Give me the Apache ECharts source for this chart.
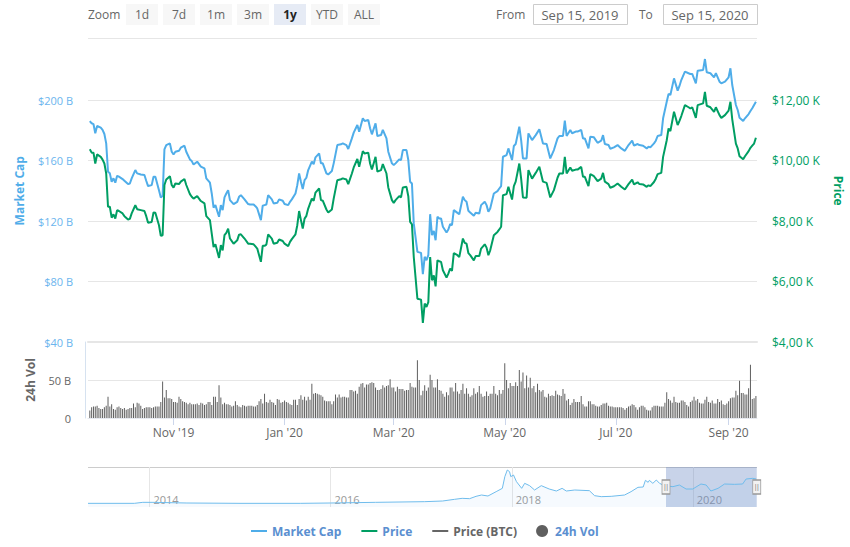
<!DOCTYPE html>
<html>
<head>
<meta charset="utf-8">
<title>Market Cap / Price</title>
<script src="https://cdn.jsdelivr.net/npm/echarts@6/dist/echarts.min.js"></script>
<style>
  html, body { margin: 0; padding: 0; background: #fff; }
  #chart { width: 850px; height: 547px; }
</style>
</head>
<body>
<div id="chart"></div>
<script>
// days after Sep 15 2019 at which the two lines were read
const lineDays = [
  1,2,3,4,5,7,8,9,10,11, 12,13,14,15,16,17,19,20,22,23,
  24,26,27,29,31,32,33,35,36,37, 39,40,41,42,43,45,46,47,48,50,
  51,53,54,56,57,58,60,62,64,65, 67,68,69,70,72,73,74,75,76,77,
  78,80,82,83,84,86,88,89,91,92, 93,95,96,97,98,99,101,102,104,105,
  107,108,110,111,112,114,115,116,117,118, 119,120,121,123,124,125,127,128,129,131,
  132,134,135,137,139,140,142,143,145,146, 148,149,151,152,154,155,156,158,159,161,
  162,164,165,167,168,169,171,172,173,175, 176,177,178,179,181,183,184,185,186,187,
  188,189,190,191,192,193,194,195,197,198, 199,200,201,203,204,206,207,208,209,210,
  212,213,215,216,218,219,220,221,223,225, 226,227,228,230,231,233,234,235,237,238,
  239,241,242,244,246,248,250,252,254,256, 258,259,261,262,263,265,266,268,269,271,
  272,273,275,276,278,279,280,282,283,284, 286,287,289,291,293,295,297,299,300,302,
  303,305,307,308,309,311,312,313,315,316, 318,319,320,322,324,325,326,328,330,331,
  332,334,335,338,339,340,342,344,345,347, 348,350,352,353,354,356,357,358,360,361,
  363,364,365,366,367
];

// market cap, $ B
const capValues = [
  186.1,184.6,184.1,178,182.8,181.7,180.2,177.5,171.3,152.6, 151.5,146,148.2,145.3,149.9,149.3,147.7,146.6,144.4,144.8,
  148.2,153.7,151.5,150.8,150.4,146.6,143.1,143.7,149.3,149.3, 140.4,135.6,136.5,167.4,170.2,171.3,165.8,164,165.8,166.5,
  168.5,169.8,165.8,160.7,159.6,157.4,159.2,155.9,154.8,148.2, 145.3,138.2,128.9,130.5,122.8,130.5,127.2,135.6,138.2,140.4,
  133.8,131.2,132.7,136,137.1,134.3,131.2,130.9,130.9,129.8, 128.3,120.6,130.1,130.5,130.9,137.1,134.3,131.6,132,134.3,
  133.4,131.2,130.5,132.7,134.3,138.2,143.7,151.5,146,141.1, 147,148.6,153.7,159.2,157.6,162.1,164.7,158.1,158.1,151.5,
  150.8,153,158.1,170.2,170.7,171.3,170.2,167.6,174.6,178.4, 183.5,179,187.9,186.1,186.8,181.3,177.3,184.6,176.2,176.8,
  180.2,174.6,165.8,158.1,157,158.1,160.7,160.3,166.9,166.9, 160.3,146,144.8,118.4,99.6,98.9,84.8,96.3,94.1,97.4,
  124.5,110.6,113.5,107.3,122.8,121.7,121.7,116.2,112.4,114.4, 117.9,117.3,127.2,125.4,124.5,136,133.8,132.7,126.8,125.6,
  123.4,125.4,125,130.5,132.7,130.5,126.1,128.3,138.2,139.8, 141.5,143.1,162.5,163.6,168,160.3,169.6,170.9,182.4,173.5,
  161.4,161.4,177.9,173.5,176.8,180.6,171.3,170.9,161.4,166.9, 174.6,176.2,176.2,186.3,176.2,180.2,178,179.1,179.1,180.2,
  174.6,174.6,168,175.7,175.3,173.5,171.7,173.1,176.8,170.9, 170.2,167.8,168.7,170.2,168,166.4,170.2,173.1,169.8,170.9,
  170.2,169.8,168,169.1,168.7,171.3,173.1,176.2,176.8,187.9, 198.9,204,203.3,214.3,206.2,209.3,213.2,218.8,217.7,217.2,
  217.2,211,219.4,219.9,227.1,218.3,217.7,215,217.7,212.1, 211,212.1,215,221,209.9,196.7,193.4,188.3,186.1,187.9,
  190.7,192.7,194.5,196.7,198.9
];

// price, $ K
const priceValues = [
  10.37,10.26,10.26,9.9,10.2,10.12,10.03,9.9,9.57,8.47, 8.47,8.11,8.22,8.08,8.36,8.33,8.25,8.16,8.05,8.07,
  8.25,8.52,8.39,8.36,8.33,8.16,7.94,7.97,8.28,8.27, 7.86,7.51,7.53,9.19,9.37,9.48,9.19,9.1,9.24,9.22,
  9.3,9.39,9.19,8.89,8.8,8.74,8.82,8.66,8.58,8.16, 8.03,7.58,7.14,7.23,6.78,7.2,7.03,7.53,7.61,7.75,
  7.42,7.25,7.36,7.55,7.56,7.42,7.25,7.25,7.23,7.16, 7.09,6.65,7.18,7.18,7.22,7.56,7.42,7.25,7.28,7.39,
  7.34,7.25,7.17,7.31,7.4,7.56,7.86,8.33,8.03,7.75, 8.08,8.17,8.41,8.74,8.67,8.94,9.08,8.69,8.67,8.38,
  8.28,8.38,8.74,9.35,9.38,9.41,9.37,9.22,9.57,9.77, 10.05,9.79,10.31,10.23,10.26,9.9,9.7,10.12,9.63,9.68,
  9.88,9.57,9.11,8.69,8.6,8.69,8.82,8.78,9.11,9.13, 8.82,7.97,7.89,6.81,5.43,5.4,4.63,5.27,5.16,5.32,
  6.81,6.04,6.2,5.84,6.7,6.67,6.65,6.37,6.13,6.26, 6.43,6.35,6.94,6.87,6.81,7.42,7.28,7.25,6.94,6.87,
  6.7,6.84,6.84,7.09,7.23,7.12,6.87,7.03,7.53,7.64, 7.72,7.81,8.85,8.89,9.13,8.71,9.15,9.3,9.9,9.4,
  8.78,8.77,9.68,9.4,9.59,9.79,9.3,9.26,8.78,9.02, 9.43,9.57,9.57,10.12,9.57,9.77,9.66,9.7,9.7,9.79,
  9.46,9.46,9.15,9.55,9.48,9.4,9.32,9.4,9.59,9.3, 9.22,9.1,9.15,9.24,9.13,9.04,9.22,9.37,9.21,9.28,
  9.22,9.21,9.13,9.18,9.15,9.29,9.4,9.55,9.59,10.12, 10.67,11.06,10.97,11.61,11.17,11.31,11.47,11.83,11.76,11.72,
  11.76,11.41,11.83,11.89,12.27,11.81,11.76,11.61,11.76,11.5, 11.41,11.5,11.65,11.94,11.36,10.56,10.4,10.14,10.04,10.14,
  10.31,10.42,10.49,10.56,10.75
];

// 24h volume, $ B, one bar a day starting at day 1
const volValues = [
  10,14,15,15,16,13,12,12,14,16, 28,15,18,12,11,14,15,13,12,13,
  11,12,13,13,19,14,20,19,16,12, 13,14,14,14,13,14,15,15,15,21,
  48,27,37,26,26,25,21,21,20,28, 25,22,21,20,18,20,18,18,18,19,
  17,20,19,17,18,21,21,17,28,28, 21,43,27,18,20,18,18,17,15,16,
  22,17,15,14,17,16,15,16,16,16, 15,15,17,22,25,19,32,21,20,24,
  21,20,17,25,24,20,21,23,21,20, 18,17,24,24,17,25,30,24,28,23,
  28,24,45,32,33,32,31,30,28,23, 22,22,22,18,22,31,27,31,27,28,
  28,27,27,37,37,35,36,32,41,45, 46,40,44,44,46,47,46,40,37,37,
  38,43,40,42,43,51,40,40,35,41, 38,38,38,36,37,37,46,41,40,40,
  76,50,30,36,43,36,40,57,50,40, 40,51,37,36,32,28,34,30,40,40,
  35,46,35,32,37,45,32,39,32,28, 30,39,32,34,42,32,28,29,35,29,
  32,32,42,32,30,37,32,37,72,50, 39,46,42,42,47,42,63,48,60,39,
  56,40,53,39,42,34,45,37,35,37, 28,27,32,29,30,29,36,31,30,29,
  38,32,23,25,17,20,25,21,21,21, 29,18,15,15,22,22,18,18,16,15,
  15,17,19,19,20,16,15,15,14,14, 14,14,14,13,11,13,15,16,18,17,
  14,11,14,16,16,14,11,10,10,14, 16,16,16,15,15,15,20,34,25,23,
  20,28,21,20,20,23,23,21,17,15, 21,23,28,23,25,20,19,19,24,28,
  21,20,23,19,19,25,21,23,18,17, 19,22,26,27,27,36,30,49,33,33,
  31,31,39,70,25,26,29
];

// navigator, whole history
const navDates = [
  '2013-04-28','2013-11-01','2013-12-05','2014-01-15','2014-06-01','2015-01-01','2015-09-01','2016-01-01','2016-07-01','2017-01-15',
  '2017-03-28','2017-05-15','2017-06-15','2017-07-15','2017-08-10','2017-09-01','2017-09-27','2017-10-30','2017-11-24','2017-12-04',
  '2017-12-14','2017-12-23','2017-12-28','2018-01-08','2018-01-20','2018-02-10','2018-02-22','2018-03-14','2018-04-03','2018-04-30',
  '2018-06-01','2018-06-30','2018-07-23','2018-08-09','2018-09-12','2018-11-10','2018-12-01','2018-12-28','2019-02-06','2019-04-01',
  '2019-04-27','2019-05-25','2019-06-15','2019-06-24','2019-07-05','2019-07-10','2019-07-24','2019-08-07','2019-08-20','2019-09-09',
  '2019-10-13','2019-11-08','2019-12-05','2020-01-01','2020-02-03','2020-02-24','2020-03-14','2020-04-12','2020-05-08','2020-06-17',
  '2020-07-20','2020-08-03','2020-08-30','2020-09-13'
];
const navValues = [
  33,33,42,42,36,33,33,36,42,48,
  54,69,78,75,96,108,99,138,168,273,
  333,318,273,288,228,168,213,192,153,192,
  162,144,168,144,153,147,102,93,96,108,
  138,177,180,240,222,240,213,243,213,192,
  183,198,162,162,207,198,144,168,207,204,
  207,252,258,252
];

const xTickDates = ['2019-11-01','2020-01-01','2020-03-01','2020-05-01','2020-07-01','2020-09-01'];
const xTickLabels = ["Nov '19","Jan '20","Mar '20","May '20","Jul '20","Sep '20"];
const navTickDates = ['2014-01-01','2016-01-01','2018-01-01','2020-01-01'];
const navTickLabels = ['2014','2016','2018','2020'];
const rangeButtons = ['1d','7d','1m','3m','1y','YTD','ALL'];

const DAY = 86400000;
const startTime = Date.parse('2019-09-15');
const xTicks = xTickDates.map(d => Date.parse(d));
const navTicks = navTickDates.map(d => Date.parse(d));
const dayToTime = d => startTime + d * DAY;

const FONT = '"Open Sans", "Noto Sans", sans-serif';
const BLUE = '#4fade9';
const GREEN = '#009e63';
const GRAY = '#666666';
const LINK = '#5b8fd0';
const NO_DOT = { color: 'rgba(0,0,0,0)', borderColor: 'rgba(0,0,0,0)', opacity: 0 };

const chart = echarts.init(document.getElementById('chart'), null, { renderer: 'svg' });

// 상단 버튼 / 입력칸
const topBar = [
  { type: 'text', left: 88, top: 8, style: { text: 'Zoom', fill: GRAY, font: '12px ' + FONT } },
  { type: 'line', shape: { x1: 88, y1: 38.5, x2: 757, y2: 38.5 }, style: { stroke: '#e6e6e6' } },
  { type: 'line', shape: { x1: 88, y1: 467.5, x2: 757, y2: 467.5 }, style: { stroke: '#cccccc' } }
];
rangeButtons.forEach((name, i) => {
  const x = 126 + i * 37;
  const active = name === '1y';
  topBar.push({ type: 'rect', shape: { x: x, y: 4, width: 32, height: 21 }, style: { fill: active ? '#e6ebf5' : '#f7f7f7' } });
  topBar.push({
    type: 'text', x: x + 16, y: 14.5,
    style: { text: name, fill: active ? '#222' : GRAY, font: (active ? 'bold ' : '') + '12px ' + FONT, align: 'center', verticalAlign: 'middle' }
  });
});
[['From', 496, 533, 'Sep 15, 2019'], ['To', 639, 663, 'Sep 15, 2020']].forEach(([label, lx, bx, val]) => {
  topBar.push({ type: 'text', x: lx, y: 14, style: { text: label, fill: GRAY, font: '12px ' + FONT, verticalAlign: 'middle' } });
  topBar.push({ type: 'rect', shape: { x: bx + 0.5, y: 4.5, width: 94, height: 20 }, style: { fill: '#fff', stroke: '#cccccc' } });
  topBar.push({ type: 'text', x: bx + 47, y: 14.5, style: { text: val, fill: GRAY, font: '13px ' + FONT, align: 'center', verticalAlign: 'middle' } });
});

const navEnd = dayToTime(366);

chart.setOption({
  animation: false,
  backgroundColor: '#fff',
  textStyle: { fontFamily: FONT },
  graphic: topBar,
  legend: {
    left: 245, top: 520,
    itemWidth: 16, itemHeight: 12, itemGap: 19,
    textStyle: { fontFamily: FONT, fontSize: 12, fontWeight: 'bold', color: LINK },
    data: [
      { name: 'Market Cap', itemStyle: NO_DOT },
      { name: 'Price', itemStyle: NO_DOT },
      { name: 'Price (BTC)', itemStyle: NO_DOT, textStyle: { color: GRAY, width: 69 } },
      { name: '24h Vol', icon: 'circle' }
    ]
  },
  grid: [
    { left: 88, right: 93, top: 39.5, height: 302.5, outerBoundsMode: 'none' },
    { left: 88, right: 93, top: 342, height: 76, outerBoundsMode: 'none' },
    { left: 88, right: 93, top: 467, height: 40, outerBoundsMode: 'none' }
  ],
  xAxis: [
    {
      type: 'value', gridIndex: 0, min: startTime, max: dayToTime(367.6), containShape: false,
      axisTick: { show: false }, axisLabel: { show: false }, splitLine: { show: false },
      axisLine: { show: true, onZero: false, lineStyle: { color: '#e6e6e6', width: 2 } }
    },
    {
      type: 'value', gridIndex: 1, min: startTime, max: dayToTime(367.6), containShape: false,
      splitLine: { show: false },
      axisLine: { show: true, onZero: false, lineStyle: { color: '#e6e9f0' } },
      axisTick: { show: true, length: 7, customValues: xTicks, lineStyle: { color: '#ccd6eb' } },
      axisLabel: {
        customValues: xTicks, margin: 8, color: GRAY, fontSize: 12, fontFamily: FONT,
        formatter: v => xTickLabels[xTicks.indexOf(v)]
      }
    },
    {
      type: 'value', gridIndex: 2, min: Date.parse('2013-04-28'), max: Date.parse('2020-09-16'), containShape: false,
      splitLine: { show: false },
      axisLine: { show: false },
      axisTick: { show: true, inside: true, length: 40, customValues: navTicks, lineStyle: { color: '#e6e6e6' } },
      axisLabel: {
        customValues: navTicks, inside: true, margin: 2, color: '#999', fontSize: 11, fontFamily: FONT,
        align: 'left', padding: [0, 0, 0, 4],
        formatter: v => navTickLabels[navTicks.indexOf(v)]
      }
    }
  ],
  yAxis: [
    {
      type: 'value', gridIndex: 0, min: 40, max: 240, interval: 40,
      name: 'Market Cap', nameLocation: 'middle', nameGap: 63, nameRotate: 90,
      nameTextStyle: { color: BLUE, fontWeight: 'bold', fontSize: 12, fontFamily: FONT },
      axisLine: { show: false }, axisTick: { show: false },
      axisLabel: { showMaxLabel: false, margin: 15, color: '#6bb5ee', fontSize: 11, fontFamily: FONT, formatter: v => '$' + v + ' B' },
      splitLine: { showMaxLine: false, lineStyle: { color: '#e6e6e6' } }
    },
    {
      type: 'value', gridIndex: 0, position: 'right', min: 4, max: 14, interval: 2,
      name: 'Price', nameLocation: 'middle', nameGap: 75, nameRotate: -90,
      nameTextStyle: { color: GREEN, fontWeight: 'bold', fontSize: 12, fontFamily: FONT },
      axisLine: { show: false }, axisTick: { show: false },
      axisLabel: { showMaxLabel: false, margin: 15, color: GREEN, fontSize: 12, fontFamily: FONT, formatter: v => '$' + v + ',00 K' },
      splitLine: { show: false }
    },
    {
      type: 'value', gridIndex: 1, min: 0, max: 100, interval: 50, offset: 3,
      name: '24h Vol', nameLocation: 'middle', nameGap: 49, nameRotate: 90,
      nameTextStyle: { color: GRAY, fontWeight: 'bold', fontSize: 12, fontFamily: FONT },
      axisLine: { show: true, lineStyle: { color: '#d6e2f0' } }, axisTick: { show: false },
      axisLabel: { showMaxLabel: false, margin: 14, color: GRAY, fontSize: 11, fontFamily: FONT, formatter: v => v === 0 ? '0' : v + ' B' },
      splitLine: { lineStyle: { color: '#e6e6e6' } }
    },
    { type: 'value', gridIndex: 2, min: 0, max: 360, show: false }
  ],
  series: [
    {
      name: 'Market Cap', type: 'line', xAxisIndex: 0, yAxisIndex: 0, symbol: 'none',
      lineStyle: { color: BLUE, width: 2 }, itemStyle: { color: BLUE },
      data: lineDays.map((d, i) => [dayToTime(d), capValues[i]])
    },
    {
      name: 'Price', type: 'line', xAxisIndex: 0, yAxisIndex: 1, symbol: 'none',
      lineStyle: { color: GREEN, width: 2 }, itemStyle: { color: GREEN },
      data: lineDays.map((d, i) => [dayToTime(d), priceValues[i]])
    },
    {
      name: 'Price (BTC)', type: 'line', xAxisIndex: 0, yAxisIndex: 1, symbol: 'none',
      lineStyle: { color: GRAY, width: 2 }, itemStyle: { color: GRAY },
      data: []
    },
    {
      name: '24h Vol', type: 'bar', xAxisIndex: 1, yAxisIndex: 2, barWidth: 1,
      itemStyle: { color: '#5f5f5f' },
      data: volValues.map((v, i) => [dayToTime(i + 1), v])
    },
    {
      name: 'Navigator', type: 'line', xAxisIndex: 2, yAxisIndex: 3, symbol: 'none',
      lineStyle: { color: '#6fbcec', width: 1 },
      areaStyle: { color: 'rgba(124,190,236,0.1)' },
      data: navDates.map((d, i) => [Date.parse(d), navValues[i]]),
      markArea: {
        silent: true,
        itemStyle: { color: 'rgba(102,133,194,0.36)' },
        data: [[{ xAxis: startTime, yAxis: 0 }, { xAxis: navEnd, yAxis: 360 }]]
      },
      markPoint: {
        silent: true,
        symbol: 'rect', symbolSize: [8, 14],
        itemStyle: { color: '#f2f2f2', borderColor: '#999', borderWidth: 1 },
        label: { show: true, formatter: 'll', color: '#999', fontSize: 9, position: 'inside' },
        data: [
          { coord: [startTime, 180] },
          { coord: [navEnd, 180] }
        ]
      }
    }
  ]
});
</script>
</body>
</html>
